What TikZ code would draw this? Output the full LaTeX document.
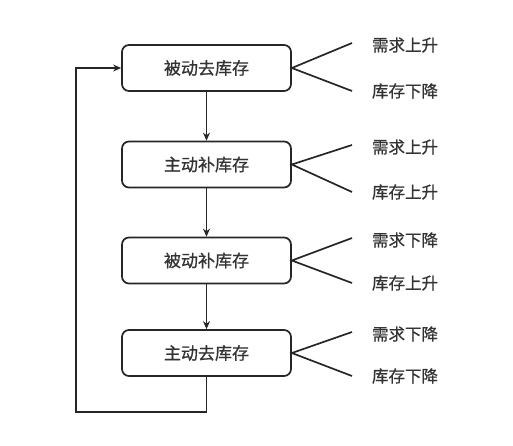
\documentclass[tikz,border=0pt]{standalone}
\usepackage{fontspec}
\newfontfamily\cjk[FakeBold=0.8]{Noto Sans CJK SC}
\usetikzlibrary{arrows.meta}
\begin{document}
\begin{tikzpicture}[x=1pt,y=-1pt,
  box/.style={draw=black!85,line width=1.7pt,rounded corners=7pt,minimum width=169pt,minimum height=46pt,inner sep=0pt,font=\cjk\fontsize{17}{20}\selectfont,text=black!80},
  lbl/.style={font=\cjk\fontsize{16.5}{20}\selectfont,text=black!80,inner sep=0pt},
  conn/.style={draw=black!85,line width=1.7pt},
  arr/.style={conn,-{Stealth[length=8pt,width=7pt]}}]
\useasboundingbox (0,0) rectangle (513,445);
\node[box] (b1) at (206.5,68) {被动去库存};
\node[box] (b2) at (206.5,164.5) {主动补库存};
\node[box] (b3) at (206.5,260.5) {被动补库存};
\node[box] (b4) at (206.5,353) {主动去库存};
\draw[arr] (b1) -- (b2);
\draw[arr] (b2) -- (b3);
\draw[arr] (b3) -- (b4);
\coordinate (c1) at (206.5,412);
\coordinate (c2) at (76,412);
\coordinate (c3) at (76,68);
\draw[arr] (b4.south) -- (c1) -- (c2) -- (c3) -- (b1.west);
% fans
\foreach \i/\y/\ta/\tb/\ya/\yb in {1/68/需求上升/库存下降/43/91,2/164.5/需求上升/库存上升/145/192,3/260.5/需求下降/库存上升/238/283,4/353/需求下降/库存下降/332/376}{
  \coordinate (u\i) at (352,\ya);
  \coordinate (d\i) at (352,\yb);
  \node[lbl] (t\i) at (405,\ya+2) {\ta};
  \node[lbl] (s\i) at (405,\yb) {\tb};
  \draw[conn] (u\i) -- (b\i.east) -- (d\i);
}
\end{tikzpicture}
\end{document}
